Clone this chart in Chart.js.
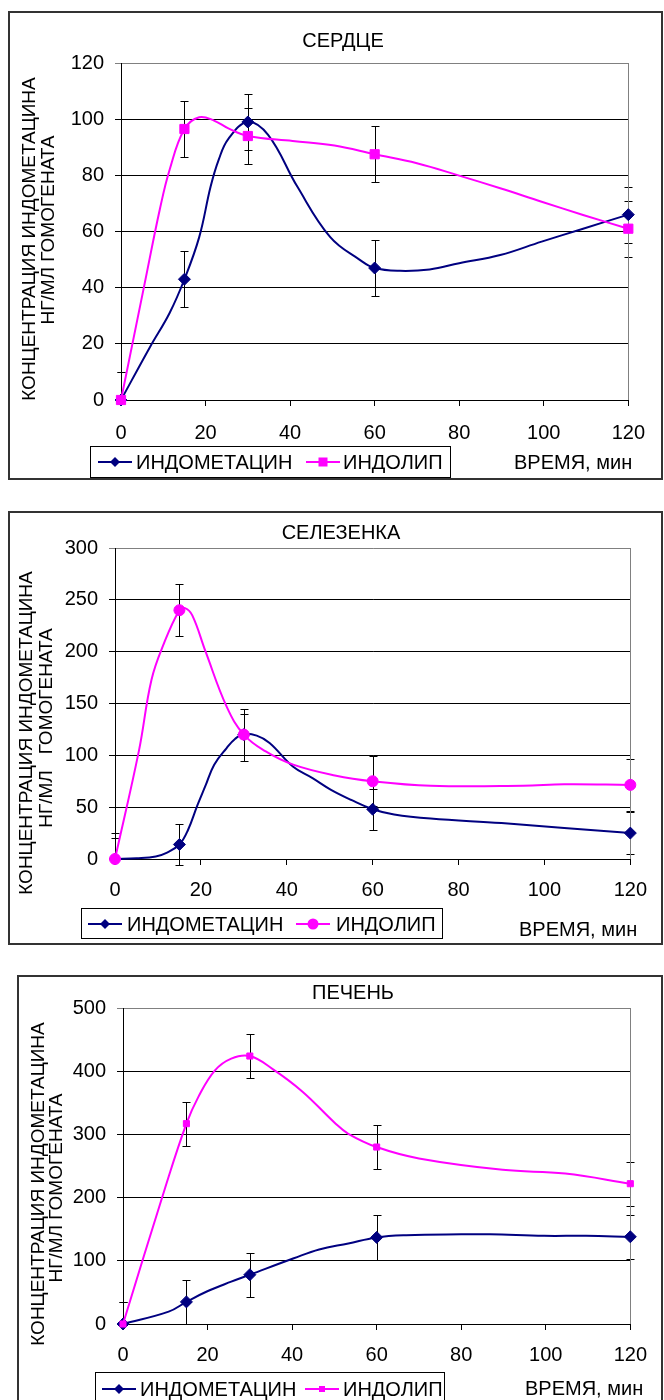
<!DOCTYPE html>
<html lang="ru">
<head>
<meta charset="utf-8">
<title>Концентрация индометацина</title>
<script src="https://cdn.jsdelivr.net/npm/chart.js@4.4.1/dist/chart.umd.min.js"></script>
<style>
    body { margin: 0; width: 664px; height: 1400px; overflow: hidden; background: #fff; position: relative;
           font-family: 'Liberation Sans', Arial, sans-serif; color: #000; }
    .frame { position: absolute; border: 2px solid #333; box-sizing: border-box; }
    canvas { position: absolute; }
    .txt { position: absolute; font-size: 20px; line-height: 1; white-space: pre; transform: translateY(-50%); }
    .ctitle { position: absolute; font-size: 20px; line-height: 1; white-space: pre; transform: translate(-50%, -50%); }
    .ytitle { position: absolute; font-size: 19px; line-height: 1; white-space: pre; transform: translate(-50%, -50%) rotate(-90deg); }
    .legend { position: absolute; border: 1px solid #000; box-sizing: border-box; background: #fff; }
    .legend svg { position: absolute; }
</style>
</head>
<body>

<div class="frame" style="left:8px; top:11px; width:655px; height:469px;"></div>
<canvas id="heartChart" width="650" height="465" style="left:10px; top:13px;"></canvas>

<div class="frame" style="left:8px; top:511px; width:655px; height:434px;"></div>
<canvas id="spleenChart" width="650" height="430" style="left:10px; top:513px;"></canvas>

<div class="frame" style="left:17px; top:975px; width:646px; height:440px;"></div>
<canvas id="liverChart" width="641" height="421" style="left:19px; top:977px;"></canvas>

<script>
// Common
const times = [0, 15, 30, 60, 120];
const seriesNames = ['ИНДОМЕТАЦИН', 'ИНДОЛИП'];
const xAxisTitle = 'ВРЕМЯ, мин';
const yTitleLines = ['КОНЦЕНТРАЦИЯ ИНДОМЕТАЦИНА', 'НГ/МЛ ГОМОГЕНАТА'];

// СЕРДЦЕ
const heartIndometacin = [0, 43, 99, 47, 66];
const heartIndolip = [0, 96.5, 94, 87.5, 61];
const heartErrUpIndometacin = [10, 10, 10, 10, 10];
const heartErrDownIndometacin = [0, 10, 10, 10, 10];
const heartErrUpIndolip = [10, 10, 10, 10, 10];
const heartErrDownIndolip = [0, 10, 10, 10, 10];
const heartIndometacinTraceX = [0, 6.9, 11.5, 15, 18.5, 21.2, 23.1, 25.4, 30, 34.8, 41.7, 49.5, 56.4, 60, 66, 73, 80, 89.7, 99.5, 109.3, 120];
const heartIndometacinTraceY = [0, 19, 31, 43, 58, 76, 85.5, 93, 99, 94.4, 76, 58, 50, 47, 46, 46.5, 48.7, 51.6, 56.4, 61, 66];
const heartIndolipTraceX = [0, 5.4, 9.2, 11.5, 15, 18.5, 22, 25.4, 30, 40.6, 50.5, 60, 70, 80, 89.7, 99.5, 109.3, 120];
const heartIndolipTraceY = [0, 40, 68, 82, 96.5, 100.7, 99.5, 96.7, 94, 92.2, 90.6, 87.5, 84.3, 79.9, 75.4, 70.6, 65.9, 61];

// СЕЛЕЗЕНКА
const spleenIndometacin = [0, 14, 120, 48, 25];
const spleenIndolip = [0, 240, 120, 75, 71.5];
const spleenErrUpIndometacin = [20, 20, 20, 20, 20];
const spleenErrDownIndometacin = [0, 20, 20, 20, 20];
const spleenErrUpIndolip = [25, 25, 25, 24, 25];
const spleenErrDownIndolip = [0, 25, 25, 24, 25];
const spleenIndometacinTraceX = [0, 5, 9.5, 12, 15, 17, 19.2, 21, 23.1, 26, 28, 30, 33, 36, 41.5, 46, 50.2, 55, 60, 65, 73.5, 90, 104.6, 120];
const spleenIndometacinTraceY = [0, 0.8, 2.5, 6, 14, 28, 52, 70, 91, 107, 116, 120.5, 119, 112, 89, 78, 67, 57, 48, 43, 39, 34.7, 30, 25];
const spleenIndolipTraceX = [0, 5.6, 8.5, 11.4, 15, 16.3, 18, 21.1, 26, 30, 35, 41.5, 51.2, 60, 73.5, 95, 104.6, 120];
const spleenIndolipTraceY = [0, 105, 173, 208, 240, 242, 235, 200, 147, 120, 104, 91, 80.6, 75, 70.7, 70.7, 72, 71.5];

// ПЕЧЕНЬ
const liverIndometacin = [0, 35, 78, 137, 138];
const liverIndolip = [0, 317, 424, 280, 222];
const liverErrUpIndometacin = [35, 35, 35, 35, 35];
const liverErrDownIndometacin = [0, 35, 35, 35, 35];
const liverErrUpIndolip = [35, 35, 35, 35, 35];
const liverErrDownIndolip = [0, 35, 35, 35, 35];
const liverIndometacinTraceX = [0, 10.8, 15, 19.7, 25.6, 30, 40.4, 46.4, 53.3, 60, 67, 80, 86.8, 99.6, 109.5, 120];
const liverIndometacinTraceY = [0, 19.5, 35, 51, 67, 78, 104, 118, 127.5, 137, 140.5, 142, 142, 139.5, 139.5, 138];
const liverIndolipTraceX = [0, 9.9, 15, 17.8, 21.7, 25.6, 30, 35.5, 42.4, 50.3, 53.3, 60, 70, 89.8, 104.6, 120];
const liverIndolipTraceY = [0, 214, 317, 359, 401, 420, 424, 403, 368, 317, 301, 280, 262, 244, 238, 222];

const BLUE = '#000080';
const MAGENTA = '#FF00FF';
const FONT = "'Liberation Sans', Arial, sans-serif";

const toPoints = (xs, ys) => xs.map((x, i) => ({ x: x, y: ys[i] }));

// error bars under the markers
const errorBarsPlugin = {
    id: 'errorBars',
    beforeDatasetsDraw(chart) {
        const ctx = chart.ctx;
        const yScale = chart.scales.y;
        ctx.save();
        ctx.strokeStyle = '#000';
        ctx.lineWidth = 1;
        chart.data.datasets.forEach((ds, i) => {
            if (!ds.errUp) return;
            chart.getDatasetMeta(i).data.forEach((pt, j) => {
                const v = ds.data[j].y;
                const x = Math.round(pt.x) + 0.5;
                const top = Math.round(yScale.getPixelForValue(v + ds.errUp[j])) + 0.5;
                const bot = Math.round(yScale.getPixelForValue(v - ds.errDown[j])) + 0.5;
                ctx.beginPath();
                ctx.moveTo(x, top);
                ctx.lineTo(x, bot);
                ctx.moveTo(x - 4, top);
                ctx.lineTo(x + 4, top);
                if (ds.errDown[j] > 0) {
                    ctx.moveTo(x - 4, bot);
                    ctx.lineTo(x + 4, bot);
                }
                ctx.stroke();
            });
        });
        ctx.restore();
    }
};

// grey right edge of the plot area
const plotEdgePlugin = {
    id: 'plotEdge',
    beforeDatasetsDraw(chart) {
        const a = chart.chartArea;
        const ctx = chart.ctx;
        ctx.save();
        ctx.strokeStyle = '#808080';
        ctx.lineWidth = 1;
        ctx.beginPath();
        ctx.moveTo(Math.round(a.right) + 0.5, a.top);
        ctx.lineTo(Math.round(a.right) + 0.5, a.bottom);
        ctx.stroke();
        ctx.restore();
    }
};

function buildChart(cfg) {
    const tickFont = { family: FONT, size: 20 };
    new Chart(document.getElementById(cfg.canvasId), {
        type: 'line',
        data: {
            datasets: [
                {
                    data: toPoints(times, cfg.indolip),
                    showLine: false,
                    clip: false,
                    pointStyle: cfg.indolipMarker,
                    pointRadius: cfg.indolipRadius,
                    pointBackgroundColor: MAGENTA,
                    pointBorderColor: MAGENTA,
                    pointBorderWidth: 1,
                    errUp: cfg.indolipErrUp,
                    errDown: cfg.indolipErrDown
                },
                {
                    data: toPoints(cfg.indolipTraceX, cfg.indolipTraceY),
                    borderColor: MAGENTA,
                    borderWidth: 2,
                    pointRadius: 0,
                    tension: 0.4,
                    clip: false,
                    fill: false
                },
                {
                    data: toPoints(times, cfg.indometacin),
                    showLine: false,
                    clip: false,
                    pointStyle: 'rectRot',
                    pointRadius: 6,
                    pointBackgroundColor: BLUE,
                    pointBorderColor: BLUE,
                    pointBorderWidth: 1,
                    errUp: cfg.indometacinErrUp,
                    errDown: cfg.indometacinErrDown
                },
                {
                    data: toPoints(cfg.indometacinTraceX, cfg.indometacinTraceY),
                    borderColor: BLUE,
                    borderWidth: 2,
                    pointRadius: 0,
                    tension: 0.4,
                    clip: false,
                    fill: false
                }
            ]
        },
        options: {
            responsive: false,
            animation: false,
            devicePixelRatio: 1,
            layout: { padding: cfg.padding },
            plugins: {
                legend: { display: false },
                title: { display: false },
                tooltip: { enabled: false }
            },
            scales: {
                x: {
                    type: 'linear',
                    min: 0,
                    max: 120,
                    ticks: { stepSize: 20, padding: cfg.xTickPad, font: tickFont, color: '#000', maxRotation: 0 },
                    grid: { drawOnChartArea: false, tickLength: 6, color: '#000' },
                    border: { color: '#000' },
                    afterFit: s => { s.height = 50; }
                },
                y: {
                    min: 0,
                    max: cfg.yMax,
                    ticks: { stepSize: cfg.yStep, padding: 11, font: tickFont, color: '#000' },
                    grid: { tickLength: 6, color: c => (c.tick && c.tick.value === cfg.yMax) ? '#808080' : '#000' },
                    border: { color: '#000' },
                    afterFit: s => { s.width = 70; }
                }
            }
        },
        plugins: [errorBarsPlugin, plotEdgePlugin]
    });
}

function legendSample(color, shape, size, left, cy) {
    const w = 34, h = 16, c = 17, m = 8;
    let mark;
    if (shape === 'diamond') {
        mark = `<polygon points="${c},${m - size} ${c + size},${m} ${c},${m + size} ${c - size},${m}" fill="${color}"/>`;
    } else if (shape === 'circle') {
        mark = `<circle cx="${c}" cy="${m}" r="${size}" fill="${color}"/>`;
    } else {
        mark = `<rect x="${c - size}" y="${m - size}" width="${2 * size}" height="${2 * size}" fill="${color}"/>`;
    }
    return `<svg width="${w}" height="${h}" style="left:${left}px; top:${cy - m}px;">` +
        `<line x1="0" y1="${m}" x2="${w}" y2="${m}" stroke="${color}" stroke-width="2"/>${mark}</svg>`;
}

function addText(cls, text, left, top) {
    const d = document.createElement('div');
    d.className = cls;
    d.textContent = text;
    d.style.left = left + 'px';
    d.style.top = top + 'px';
    document.body.appendChild(d);
}

function buildDecor(cfg) {
    const t = cfg.text;
    addText('ctitle', cfg.title, t.title[0], t.title[1]);
    addText('ytitle', yTitleLines[0], t.y1[0], t.y1[1]);
    addText('ytitle', cfg.yLine2 || yTitleLines[1], t.y2[0], t.y2[1]);
    addText('txt', xAxisTitle, t.xTitle[0], t.xTitle[1]);

    const L = cfg.legend;
    const box = document.createElement('div');
    box.className = 'legend';
    box.style.left = L.left + 'px';
    box.style.top = L.top + 'px';
    box.style.width = L.width + 'px';
    box.style.height = L.height + 'px';
    box.innerHTML =
        legendSample(BLUE, 'diamond', 5, L.s1, L.cy) +
        `<div class="txt" style="left:${L.t1}px; top:${L.cy}px;">${seriesNames[0]}</div>` +
        legendSample(MAGENTA, cfg.legendShape, cfg.legendSize, L.s2, L.cy) +
        `<div class="txt" style="left:${L.t2}px; top:${L.cy}px;">${seriesNames[1]}</div>`;
    document.body.appendChild(box);
}

const charts = [
    {
        canvasId: 'heartChart', title: 'СЕРДЦЕ', yMax: 120, yStep: 20,
        indometacin: heartIndometacin, indolip: heartIndolip,
        indometacinErrUp: heartErrUpIndometacin, indometacinErrDown: heartErrDownIndometacin,
        indolipErrUp: heartErrUpIndolip, indolipErrDown: heartErrDownIndolip,
        indometacinTraceX: heartIndometacinTraceX, indometacinTraceY: heartIndometacinTraceY,
        indolipTraceX: heartIndolipTraceX, indolipTraceY: heartIndolipTraceY,
        indolipMarker: 'rect', indolipRadius: 6.5, legendShape: 'square', legendSize: 4.5,
        padding: { left: 41, top: 50, right: 21, bottom: 28 }, xTickPad: 15,
        text: { title: [343, 40], y1: [28, 239], y2: [47, 230], xTitle: [514, 462] },
        legend: { left: 90, top: 446, width: 361, height: 32, cy: 15, s1: 7, t1: 45, s2: 215, t2: 252 }
    },
    {
        canvasId: 'spleenChart', title: 'СЕЛЕЗЕНКА', yMax: 300, yStep: 50,
        indometacin: spleenIndometacin, indolip: spleenIndolip,
        indometacinErrUp: spleenErrUpIndometacin, indometacinErrDown: spleenErrDownIndometacin,
        indolipErrUp: spleenErrUpIndolip, indolipErrDown: spleenErrDownIndolip,
        indometacinTraceX: spleenIndometacinTraceX, indometacinTraceY: spleenIndometacinTraceY,
        indolipTraceX: spleenIndolipTraceX, indolipTraceY: spleenIndolipTraceY,
        indolipMarker: 'circle', indolipRadius: 5.5, legendShape: 'circle', legendSize: 5.5,
        yLine2: 'НГ/МЛ   ГОМОГЕНАТА',
        padding: { left: 35, top: 35, right: 21, bottom: 34 }, xTickPad: 13,
        text: { title: [341, 532], y1: [25, 733], y2: [45, 728], xTitle: [519, 929] },
        legend: { left: 81, top: 908, width: 362, height: 31, cy: 15, s1: 6, t1: 45, s2: 214, t2: 254 }
    },
    {
        canvasId: 'liverChart', title: 'ПЕЧЕНЬ', yMax: 500, yStep: 100,
        indometacin: liverIndometacin, indolip: liverIndolip,
        indometacinErrUp: liverErrUpIndometacin, indometacinErrDown: liverErrDownIndometacin,
        indolipErrUp: liverErrUpIndolip, indolipErrDown: liverErrDownIndolip,
        indometacinTraceX: liverIndometacinTraceX, indometacinTraceY: liverIndometacinTraceY,
        indolipTraceX: liverIndolipTraceX, indolipTraceY: liverIndolipTraceY,
        indolipMarker: 'rect', indolipRadius: 4.3, legendShape: 'square', legendSize: 3,
        padding: { left: 34, top: 31, right: 22, bottom: 24 }, xTickPad: 13,
        text: { title: [353, 992], y1: [37, 1184], y2: [55, 1188], xTitle: [525, 1388] },
        legend: { left: 95, top: 1372, width: 350, height: 40, cy: 16, s1: 6, t1: 44, s2: 209, t2: 247 }
    }
];

charts.forEach(cfg => {
    buildChart(cfg);
    buildDecor(cfg);
});
</script>
</body>
</html>
